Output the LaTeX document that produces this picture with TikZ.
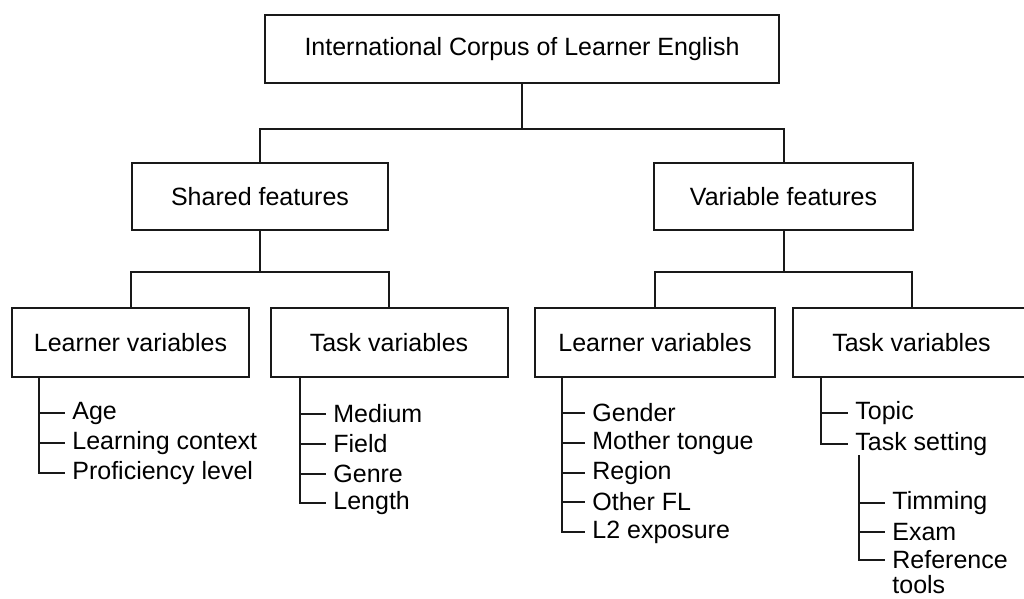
\documentclass[tikz,border=0pt]{standalone}
\usepackage{fontspec}
\setmainfont{Liberation Sans}
\usetikzlibrary{calc}
\usetikzlibrary{positioning}

\begin{document}
\begin{tikzpicture}[x=0.5pt, y=-0.5pt,
		font=\fontsize{12.5}{15}\selectfont,
		b/.style = {rectangle, draw=black!90, line width=1pt, minimum width=118.5pt, minimum height=34.5pt, inner sep=0pt},
		it/.style = {anchor=west, inner xsep=3.5pt, inner ysep=1pt},
		l/.style = {line width=1pt, draw=black!90}
		]
		\useasboundingbox (0,0) rectangle (1024,599);
		
		%Nodes
		\node[b, minimum width=257pt, minimum height=34pt]	(icle)	at	(522, 49)	{International Corpus of Learner English};
		\node[b, minimum width=128pt, minimum height=33.5pt]	(shared)	at	(260, 196.5)	{Shared features};
		\node[b, minimum width=129.5pt, minimum height=33.5pt]	(variable)	at	(783.5, 196.5)	{Variable features};
		\node[b]	(lv1)	at	(130.5, 342.5)	{Learner variables};
		\node[b]	(tv1)	at	(389, 342.5)	{Task variables};
		\node[b, minimum width=120pt]	(lv2)	at	(655, 342.5)	{Learner variables};
		\node[b]	(tv2)	at	(911.5, 342.5)	{Task variables};
		
		%Items
		\node[it]	(age)	at	(65, 413)	{Age};
		\node[it]	(context)	at	(65, 443)	{Learning context};
		\node[it]	(level)	at	(65, 473)	{Proficiency level};
		
		\node[it]	(medium)	at	(326, 414)	{Medium};
		\node[it]	(field)	at	(326, 444)	{Field};
		\node[it]	(genre)	at	(326, 474)	{Genre};
		\node[it]	(length)	at	(326, 503)	{Length};
		
		\node[it]	(gender)	at	(585, 413)	{Gender};
		\node[it]	(tongue)	at	(585, 443)	{Mother tongue};
		\node[it]	(region)	at	(585, 473)	{Region};
		\node[it]	(otherfl)	at	(585, 502)	{Other FL};
		\node[it]	(exposure)	at	(585, 532)	{L2 exposure};
		
		\node[it]	(topic)	at	(848, 413)	{Topic};
		\node[it]	(setting)	at	(848, 444)	{Task setting};
		\node[it]	(timing)	at	(885, 503)	{Timming};
		\node[it]	(exam)	at	(885, 532)	{Exam};
		\node[it]	(reference)	at	(885, 560)	{Reference};
		\node[it]	(tools)	at	(885, 585)	{tools};
		
		%Spines
		\coordinate	(s1)	at	(39, 377);
		\coordinate	(s2)	at	(300, 377);
		\coordinate	(s3)	at	(562, 377);
		\coordinate	(s4)	at	(821, 377);
		\coordinate	(s5)	at	(859, 455);
		
		%Lines
		\draw[l]	(icle.south)	--	++(0, 45)	-|	(shared.north);
		\draw[l]	(icle.south)	++(0, 45)	-|	(variable.north);
		\draw[l]	(shared.south)	--	++(0, 41)	-|	(lv1.north);
		\draw[l]	(shared.south)	++(0, 41)	-|	(tv1.north);
		\draw[l]	(variable.south)	--	++(0, 41)	-|	(lv2.north);
		\draw[l]	(variable.south)	++(0, 41)	-|	(tv2.north);
		
		\draw[l]	(s1)	|-	(level.west);
		\foreach \n in {age, context}
			\draw[l]	(s1 |- \n.west)	--	(\n.west);
		\draw[l]	(s2)	|-	(length.west);
		\foreach \n in {medium, field, genre}
			\draw[l]	(s2 |- \n.west)	--	(\n.west);
		\draw[l]	(s3)	|-	(exposure.west);
		\foreach \n in {gender, tongue, region, otherfl}
			\draw[l]	(s3 |- \n.west)	--	(\n.west);
		\draw[l]	(s4)	|-	(setting.west);
		\draw[l]	(s4 |- topic.west)	--	(topic.west);
		\draw[l]	(s5)	|-	(reference.west);
		\foreach \n in {timing, exam}
			\draw[l]	(s5 |- \n.west)	--	(\n.west);
	\end{tikzpicture}
\end{document}
